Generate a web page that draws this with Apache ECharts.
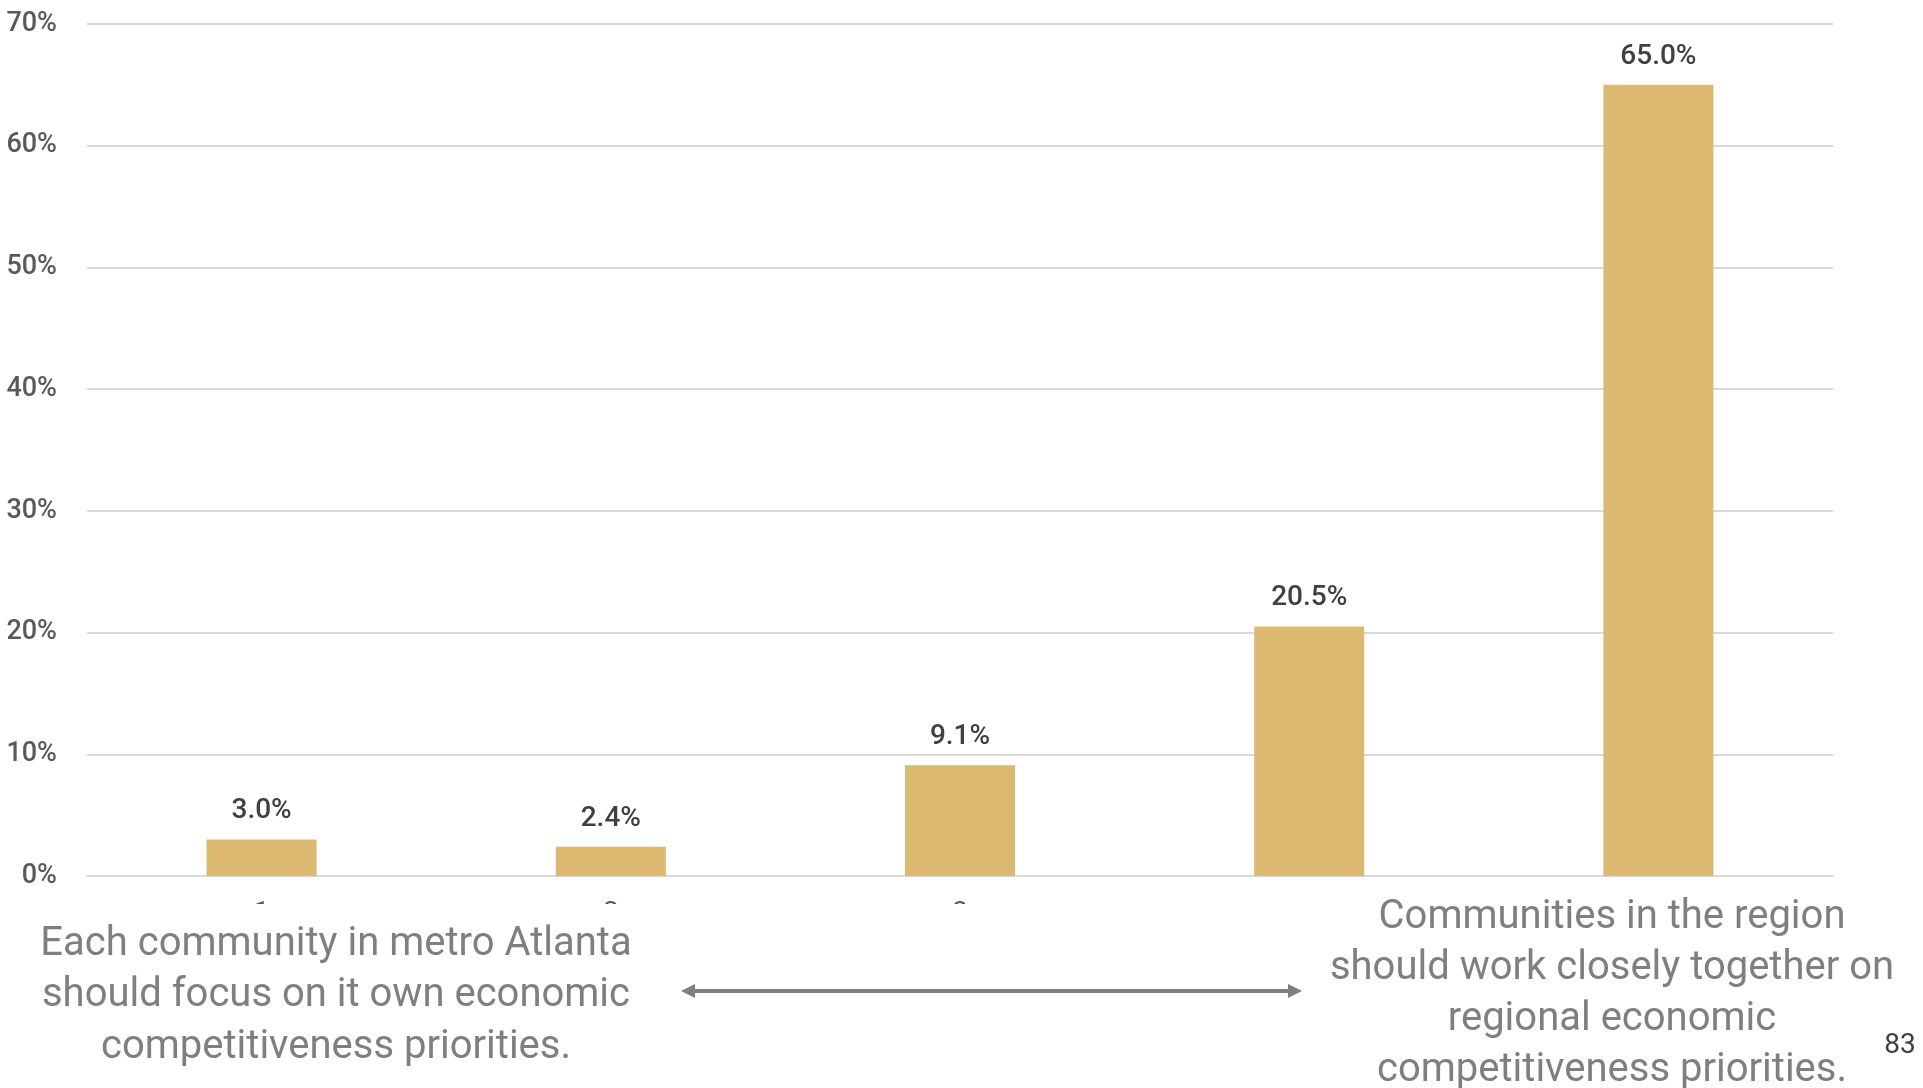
<!DOCTYPE html>
<html>
<head>
<meta charset="utf-8">
<title>Economic competitiveness priorities</title>
<script src="https://cdn.jsdelivr.net/npm/echarts@6/dist/echarts.min.js"></script>
<style>
  html, body { margin: 0; padding: 0; background: #ffffff; }
  #chart { width: 1923px; height: 1088px; }
</style>
</head>
<body>
<div id="chart"></div>
<script>
// Scale points from 1 (each community on its own) to 5 (work closely together)
const categories = ['1', '2', '3', '4', '5'];
// Share of respondents at each point, in percent
const shares = [3.0, 2.4, 9.1, 20.5, 65.0];
// Value axis ticks, in percent
const yTicks = [0, 10, 20, 30, 40, 50, 60, 70];

const leftStatement = 'Each community in metro Atlanta\nshould focus on it own economic\ncompetitiveness priorities.';
const rightStatement = 'Communities in the region\nshould work closely together on\nregional economic\ncompetitiveness priorities.';
const pageNumber = '83';

const FONT = 'Roboto, "Noto Sans", sans-serif';
const BAR = '#DBB970';
const GRID = '#D9D9D9';
const TEXT_GREY = '#7F7F7F';

const chart = echarts.init(document.getElementById('chart'), null, { renderer: 'canvas' });

chart.setOption({
  animation: false,
  backgroundColor: '#ffffff',
  grid: { left: 87, right: 90, top: 24, bottom: 212, containLabel: false },
  xAxis: {
    type: 'category',
    data: categories,
    axisLine: { show: true, lineStyle: { color: GRID, width: 2 } },
    axisTick: { show: false },
    axisLabel: { margin: 24, fontSize: 28, color: '#595959', fontFamily: FONT }
  },
  yAxis: {
    type: 'value',
    min: yTicks[0],
    max: yTicks[yTicks.length - 1],
    interval: yTicks[1] - yTicks[0],
    axisLine: { show: false },
    axisTick: { show: false },
    splitLine: { lineStyle: { color: GRID, width: 2 } },
    axisLabel: {
      margin: 30,
      fontSize: 27,
      fontWeight: 500,
      color: '#595959',
      fontFamily: FONT,
      padding: [4, 0, 0, 0],
      formatter: '{value}%'
    }
  },
  series: [{
    type: 'bar',
    data: shares,
    barWidth: '31.5%',
    itemStyle: { color: BAR },
    label: {
      show: true,
      position: 'top',
      distance: 14,
      fontSize: 28,
      fontWeight: 500,
      color: '#404040',
      fontFamily: FONT,
      formatter: p => p.value.toFixed(1) + '%'
    }
  }],
  graphic: [
    // white panels behind the two statements
    { type: 'rect', z: 100, silent: true, shape: { x: 0, y: 904, width: 1923, height: 184 }, style: { fill: '#ffffff' } },
    { type: 'rect', z: 100, silent: true, shape: { x: 1290, y: 879, width: 633, height: 209 }, style: { fill: '#ffffff' } },
    {
      type: 'text', z: 101, silent: true, x: 336, y: 996,
      style: {
        text: leftStatement, font: '40px ' + FONT, fill: TEXT_GREY,
        align: 'center', verticalAlign: 'middle', lineHeight: 51.5
      }
    },
    {
      type: 'text', z: 101, silent: true, x: 1612, y: 994,
      style: {
        text: rightStatement, font: '40px ' + FONT, fill: TEXT_GREY,
        align: 'center', verticalAlign: 'middle', lineHeight: 51
      }
    },
    // double-headed arrow between the two statements
    {
      type: 'line', z: 101, silent: true,
      shape: { x1: 692, y1: 991, x2: 1291, y2: 991 },
      style: { stroke: TEXT_GREY, lineWidth: 4 }
    },
    {
      type: 'polygon', z: 101, silent: true,
      shape: { points: [[681, 991], [695, 984], [695, 998]] },
      style: { fill: TEXT_GREY }
    },
    {
      type: 'polygon', z: 101, silent: true,
      shape: { points: [[1302, 991], [1288, 984], [1288, 998]] },
      style: { fill: TEXT_GREY }
    },
    {
      type: 'text', z: 101, silent: true, x: 1900, y: 1046,
      style: {
        text: pageNumber, font: '28px ' + FONT, fill: '#404040',
        align: 'center', verticalAlign: 'middle'
      }
    }
  ]
});
</script>
</body>
</html>
